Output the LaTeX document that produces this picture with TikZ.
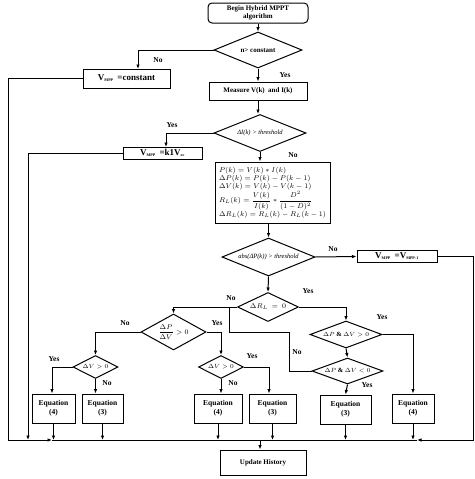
\documentclass[tikz,border=0pt]{standalone}
\usepackage{fontspec}
\setmainfont{Liberation Serif}
\usetikzlibrary{shapes.geometric,arrows.meta}
\begin{document}
\begin{tikzpicture}[x=1pt,y=-1pt,
 line width=1pt,
 box/.style={draw,rectangle,inner sep=1pt,align=center,font=\bfseries\fontsize{7.5}{9}\selectfont},
 dec/.style={draw,diamond,inner sep=0pt,align=center,font=\itshape\fontsize{6.5}{7}\selectfont},
 arr/.style={-{Latex[length=4.5pt,width=3.5pt]}},
 lab/.style={font=\bfseries\fontsize{7.5}{8}\selectfont,inner sep=0pt},
]
\newcommand{\mysub}[1]{\textsubscript{\fontsize{4}{4}\selectfont #1}}
\useasboundingbox (0,0) rectangle (474,479);
% nodes
\node[box,rounded corners=4pt,minimum width=100pt,minimum height=20pt,font=\bfseries\fontsize{7}{8}\selectfont] (begin) at (258,13) {Begin Hybrid MPPT\\algorithm};
\node[dec,minimum width=88pt,minimum height=36pt,aspect=2.4,font=\bfseries\fontsize{7}{7}\selectfont] (n) at (258,50) {n> constant};
\node[box,minimum width=87pt,minimum height=19pt,font=\bfseries\fontsize{9}{10}\selectfont] (vconst) at (126.5,78.5) {V\mysub{MPP}\ \,=constant};
\node[box,minimum width=98pt,minimum height=18pt,font=\bfseries\fontsize{7}{8}\selectfont] (meas) at (258,91) {Measure V(k)\ \ and I(k)};
\node[dec,minimum width=92pt,minimum height=37pt,aspect=2.5] (dI) at (260,133) {ΔI(k) > threshold};
\node[box,minimum width=79pt,minimum height=12pt,font=\bfseries\fontsize{9}{10}\selectfont,inner sep=0pt] (k1) at (162.5,153) {V\mysub{MPP}\ \,=k1V\mysub{oc}};
\node[box,minimum width=115pt,minimum height=61pt,align=left,font=\fontsize{6.6}{7.6}\selectfont,inner sep=2pt] (eq) at (272.5,192.5) {%
$P(k)=V(k)*I(k)$\\[0.5pt]
$\Delta P(k)=P(k)-P(k-1)$\\[0.5pt]
$\Delta V(k)=V(k)-V(k-1)$\\[0pt]
$\displaystyle R_L(k)=\frac{V(k)}{I(k)}*\frac{D^2}{(1-D)^2}$\\[0pt]
$\Delta R_L(k)=R_L(k)-R_L(k-1)$};
\node[dec,minimum width=93pt,minimum height=38pt,aspect=2.45] (abs) at (268.5,257) {abs(ΔP(k)) > threshold};
\node[box,minimum width=80pt,minimum height=12pt,font=\bfseries\fontsize{9}{10}\selectfont,inner sep=0pt] (vprev) at (397,256.5) {V\mysub{MPP}\ \,=V\mysub{MPP-1}};
\node[dec,minimum width=61pt,minimum height=29pt,aspect=2.1,font=\bfseries\fontsize{7}{7}\selectfont] (dRL) at (268,307) {$\Delta R_L\ =\ 0$};
\node[dec,minimum width=65pt,minimum height=36pt,aspect=1.8,font=\bfseries\fontsize{7}{7}\selectfont] (dPdV) at (173.5,332) {$\displaystyle\frac{\Delta P}{\Delta V} > 0$};
\node[dec,minimum width=45pt,minimum height=23pt,aspect=2,font=\bfseries\fontsize{6.5}{7}\selectfont] (dV1) at (95.5,367) {$\Delta V > 0$};
\node[dec,minimum width=45pt,minimum height=23pt,aspect=2,font=\bfseries\fontsize{6.5}{7}\selectfont] (dV2) at (221,367) {$\Delta V > 0$};
\node[dec,minimum width=72pt,minimum height=27pt,aspect=2.7,font=\bfseries\fontsize{6.5}{7}\selectfont] (PVg) at (346,334.5) {$\Delta P$ \& $\Delta V > 0$};
\node[dec,minimum width=71pt,minimum height=26pt,aspect=2.7,font=\bfseries\fontsize{6.5}{7}\selectfont] (PVl) at (347.5,371) {$\Delta P$ \& $\Delta V < 0$};
\node[box,minimum width=43pt,minimum height=29pt] (e1) at (53.5,408.5) {Equation\\(4)};
\node[box,minimum width=41pt,minimum height=29pt] (e2) at (102.5,408.5) {Equation\\(3)};
\node[box,minimum width=48pt,minimum height=29pt] (e3) at (218,408.5) {Equation\\(4)};
\node[box,minimum width=47pt,minimum height=29pt] (e4) at (272.5,408.5) {Equation\\(3)};
\node[box,minimum width=51pt,minimum height=29pt] (e5) at (345.5,409.5) {Equation\\(3)};
\node[box,minimum width=42pt,minimum height=29pt] (e6) at (413,408.5) {Equation\\(4)};
\node[box,minimum width=86pt,minimum height=25pt,font=\bfseries\fontsize{7}{8}\selectfont] (upd) at (263,462.5) {Update History};
% coordinates
\coordinate (bl) at (8,440);
\coordinate (ba) at (52,440);
\coordinate (br) at (473,440);
\coordinate (bra) at (417,440);
\coordinate (k1d) at (28,440);
\coordinate (bu) at (260,440);
\coordinate (nA) at (138,69);
\coordinate (dIA) at (166,147);
\coordinate (sp) at (229,308);
\coordinate (sq) at (289,332);
% connectors
\draw[arr] (begin.south) -- (n.north);
\draw[arr] (n.west) -| (nA);
\draw[arr] (n.south) -- (meas.north);
\draw[arr] (meas.south) -- (meas.south |- dI.north);
\draw[arr] (dI.west) -| (dIA);
\draw[arr] (dI.south) -- (dI.south |- eq.north);
\draw[arr] (abs.north |- eq.south) -- (abs.north);
\draw[arr] (abs.east) -- (vprev.west);
\draw[arr] (abs.south) -- (dRL.north);
\draw[arr] (dRL.west) -| (dPdV.north);
\draw (sp) |- (sq) |- (PVl.west);
\draw[arr] (dRL.east) -| (PVg.north);
\draw[arr] (PVg.east) -| (e6.north);
\draw[arr] (PVg.south) -- (PVl.north);
\draw[arr] (PVl.south) -- (e5.north);
\draw[arr] (dPdV.west) -| (dV1.north);
\draw[arr] (dPdV.east) -| (dV2.north);
\draw[arr] (dV1.west) -| ([xshift=-1.5pt]e1.north);
\draw[arr] (dV1.south) -- (dV1.south |- e2.north);
\draw[arr] (dV2.east) -| ([xshift=-3.5pt]e4.north);
\draw[arr] (dV2.south) -- (dV2.south |- e3.north);
\draw[arr] (vconst.west) -| (bl) -- (ba);
\draw (ba) -- (bra);
\draw[arr] (vprev.east) -| (br) -- (bra);
\draw[arr] (k1.west) -| (k1d);
\foreach \e in {e1,e2,e3,e4,e5,e6} \draw[arr] (\e.south) -- (\e.south |- bl);
\draw[arr] (bu) -- (bu |- upd.north);
% labels
\node[lab] (l1) at (158,60) {No};
\node[lab] (l2) at (285,75) {Yes};
\node[lab] (l3) at (172,125) {Yes};
\node[lab] (l4) at (293,155) {No};
\node[lab] (l5) at (333,249) {No};
\node[lab] (l6) at (308,291) {Yes};
\node[lab] (l7) at (231,298) {No};
\node[lab] (l8) at (382,317) {Yes};
\node[lab] (l9) at (297,352) {No};
\node[lab] (l10) at (367,385) {Yes};
\node[lab] (l11) at (125,323) {No};
\node[lab] (l12) at (217,323) {Yes};
\node[lab] (l13) at (54,359) {Yes};
\node[lab] (l14) at (107,383) {No};
\node[lab] (l15) at (252,356) {Yes};
\node[lab] (l16) at (233,383) {No};
\end{tikzpicture}
\end{document}
